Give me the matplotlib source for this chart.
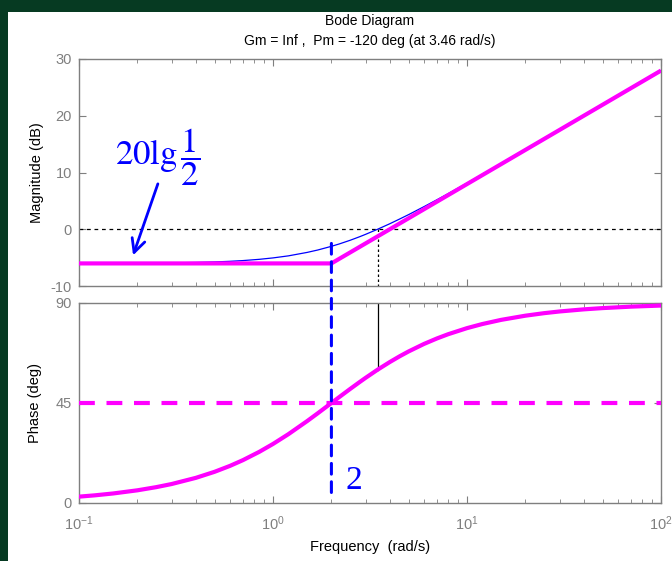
import numpy as np
import matplotlib
matplotlib.use('Agg')
import matplotlib.pyplot as plt
from matplotlib.patches import Rectangle, ConnectionPatch

# ---------------------------------------------------------------------------
# Values
# ---------------------------------------------------------------------------
freq = [0.1, 0.12, 0.15, 0.2, 0.25, 0.3, 0.4, 0.5, 0.6, 0.7, 0.85, 1.0,
        1.2, 1.5, 1.7, 2.0, 2.2, 2.5, 2.8, 3.0, 3.46, 4.0, 4.5, 5.0, 6.0,
        7.0, 8.0, 10.0, 12.0, 15.0, 20.0, 25.0, 30.0, 40.0, 50.0, 70.0,
        100.0]
mag_db = [-6.01, -6.00, -6.00, -5.98, -5.95, -5.92, -5.85, -5.76, -5.65,
          -5.52, -5.30, -5.05, -4.69, -4.08, -3.66, -3.01, -2.58, -1.94,
          -1.31, -0.90, 0.00, 0.97, 1.81, 2.58, 3.98, 5.20, 6.28, 8.13,
          9.66, 11.56, 14.02, 15.95, 17.52, 20.01, 21.95, 24.87, 27.96]
phase_deg = [2.86, 3.43, 4.29, 5.71, 7.13, 8.53, 11.31, 14.04, 16.70,
             19.29, 23.03, 26.57, 30.96, 36.87, 40.36, 45.00, 47.73, 51.34,
             54.46, 56.31, 59.98, 63.43, 66.04, 68.20, 71.57, 74.05, 75.96,
             78.69, 80.54, 82.41, 84.29, 85.43, 86.19, 87.14, 87.71, 88.36,
             88.85]

# straight-line (asymptotic) approximation drawn in magenta
asym_freq = [0.1, 2.0, 100.0]
asym_db = [-6.02, -6.02, 27.96]

corner_freq = 2.0
crossover_freq = 3.46
crossover_phase = 60.0
ref_phase = 45.0

mag_ticks = [-10, 0, 10, 20, 30]
phase_ticks = [0, 45, 90]

BG_GREEN = '#063a22'
GRAY = '#7f7f7f'
MAGENTA = '#ff00ff'

plt.rcParams['font.family'] = ['Liberation Sans', 'DejaVu Sans']
plt.rcParams['mathtext.fontset'] = 'custom'
plt.rcParams['mathtext.rm'] = 'Liberation Sans'
plt.rcParams['mathtext.it'] = 'Liberation Sans'
plt.rcParams['axes.unicode_minus'] = False

W, H = 672, 561
fig = plt.figure(figsize=(W / 100, H / 100), dpi=100, facecolor=BG_GREEN)
fig.patches.append(Rectangle((8 / W, 0), 1, (H - 12) / H, transform=fig.transFigure,
                             facecolor='white', edgecolor='none', zorder=-10))

ax1 = fig.add_axes([79 / W, 1 - 286 / H, 582 / W, 227 / H])
ax2 = fig.add_axes([79 / W, 1 - 503 / H, 582 / W, 200 / H], sharex=ax1)

for ax in (ax1, ax2):
    ax.set_xscale('log')
    ax.set_xlim(0.1, 100)
    for s in ax.spines.values():
        s.set_color(GRAY)
        s.set_linewidth(1.0)
    ax.tick_params(which='both', direction='in', top=True, right=True,
                   colors=GRAY, labelsize=10.5, labelcolor=GRAY, pad=5)
    ax.tick_params(which='major', length=5)
    ax.tick_params(which='minor', length=3)
ax2.tick_params(axis='x', pad=8)

# ---- magnitude ----
ax1.plot(freq, mag_db, color='blue', lw=0.9, zorder=3)
ax1.plot(asym_freq, asym_db, color=MAGENTA, lw=3.0, zorder=4,
         solid_capstyle='butt')
ax1.axhline(0, color='black', lw=0.9, ls=(0, (3, 3)), zorder=2)
ax1.plot([crossover_freq, crossover_freq], [0, -10], color='black', lw=0.9,
         ls=(0, (2, 2)), zorder=2)
ax1.set_ylim(-10, 30)
ax1.set_yticks(mag_ticks)
ax1.set_ylabel('Magnitude (dB)', fontsize=10.5, labelpad=5)
ax1.tick_params(labelbottom=False)

ax1.text(0.255, 12.8, r'$20\mathrm{lg}\,\dfrac{1}{2}$', color='blue',
         fontsize=25, math_fontfamily='stix', ha='center', va='center')
ax1.annotate('', xy=(0.19, -4.6), xytext=(0.255, 8.0),
             arrowprops=dict(arrowstyle='->', color='blue', lw=2.0,
                             mutation_scale=24, shrinkA=0, shrinkB=0))

# ---- phase ----
ax2.plot(freq, phase_deg, color='blue', lw=0.9, zorder=3)
ax2.plot(freq, phase_deg, color=MAGENTA, lw=3.0, zorder=4)
ax2.axhline(ref_phase, color=MAGENTA, lw=3.0, ls=(0, (3.8, 2.8)), zorder=4)
ax2.plot([crossover_freq, crossover_freq], [crossover_phase, 90],
         color='black', lw=0.9, zorder=2)
ax2.set_ylim(0, 90)
ax2.set_yticks(phase_ticks)
ax2.set_ylabel('Phase (deg)', fontsize=10.5, labelpad=10)
ax2.set_xlabel('Frequency  (rad/s)', fontsize=10.5, labelpad=5)
ax2.text(2.6, 10, '2', color='blue', fontsize=24, family='Liberation Serif',
         ha='center', va='center')

# dashed blue marker at the corner frequency, running through both panels
con = ConnectionPatch(xyA=(corner_freq, -2.5), coordsA=ax1.transData,
                      xyB=(corner_freq, 1.5), coordsB=ax2.transData,
                      color='blue', lw=2.2, linestyle=(0, (3.5, 2.5)),
                      arrowstyle='-', shrinkA=0, shrinkB=0, zorder=5)
fig.add_artist(con)

fig.text(370 / W, 1 - 21 / H, 'Bode Diagram', fontsize=10, ha='center',
         va='center')
fig.text(370 / W, 1 - 41 / H, 'Gm = Inf ,  Pm = -120 deg (at 3.46 rad/s)',
         fontsize=10, ha='center', va='center')

fig.savefig('out.png', dpi=100, facecolor=fig.get_facecolor())
